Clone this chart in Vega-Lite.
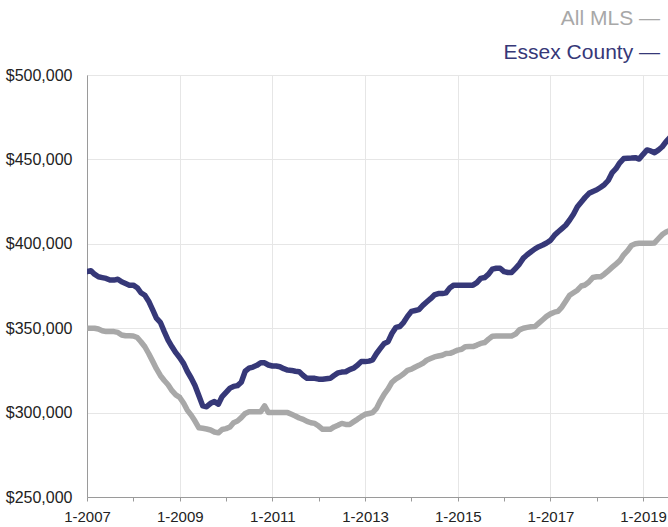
{
  "$schema": "https://vega.github.io/schema/vega-lite/v6.json",
  "width": 583,
  "height": 422,
  "padding": {"left": 5, "top": 8, "right": 0, "bottom": 5},
  "background": "white",
  "config": {
    "view": {"stroke": "#9a9a9a", "strokeWidth": 1},
    "font": "Liberation Sans"
  },
  "data": {
    "values": [
      {"date":"2007-01-01","All MLS":350000,"Essex County":383500},
      {"date":"2007-02-01","All MLS":350000,"Essex County":384000},
      {"date":"2007-03-01","All MLS":350000,"Essex County":382000},
      {"date":"2007-04-01","All MLS":349500,"Essex County":380500},
      {"date":"2007-05-01","All MLS":348500,"Essex County":380000},
      {"date":"2007-06-01","All MLS":348000,"Essex County":379500},
      {"date":"2007-07-01","All MLS":348000,"Essex County":378500},
      {"date":"2007-08-01","All MLS":348000,"Essex County":378500},
      {"date":"2007-09-01","All MLS":347500,"Essex County":379000},
      {"date":"2007-10-01","All MLS":346000,"Essex County":377500},
      {"date":"2007-11-01","All MLS":345500,"Essex County":376500},
      {"date":"2007-12-01","All MLS":345500,"Essex County":375500},
      {"date":"2008-01-01","All MLS":345400,"Essex County":375500},
      {"date":"2008-02-01","All MLS":344500,"Essex County":374000},
      {"date":"2008-03-01","All MLS":342000,"Essex County":371000},
      {"date":"2008-04-01","All MLS":339000,"Essex County":369500},
      {"date":"2008-05-01","All MLS":335000,"Essex County":366000},
      {"date":"2008-06-01","All MLS":330500,"Essex County":361000},
      {"date":"2008-07-01","All MLS":326000,"Essex County":356000},
      {"date":"2008-08-01","All MLS":322000,"Essex County":353500},
      {"date":"2008-09-01","All MLS":319000,"Essex County":348000},
      {"date":"2008-10-01","All MLS":316500,"Essex County":343000},
      {"date":"2008-11-01","All MLS":313000,"Essex County":339000},
      {"date":"2008-12-01","All MLS":310500,"Essex County":335500},
      {"date":"2009-01-01","All MLS":309000,"Essex County":332500},
      {"date":"2009-02-01","All MLS":305500,"Essex County":329000},
      {"date":"2009-03-01","All MLS":301500,"Essex County":324500},
      {"date":"2009-04-01","All MLS":298500,"Essex County":320500},
      {"date":"2009-05-01","All MLS":295000,"Essex County":316000},
      {"date":"2009-06-01","All MLS":291000,"Essex County":310000},
      {"date":"2009-07-01","All MLS":290700,"Essex County":304000},
      {"date":"2009-08-01","All MLS":290300,"Essex County":303500},
      {"date":"2009-09-01","All MLS":289700,"Essex County":305500},
      {"date":"2009-10-01","All MLS":288500,"Essex County":306500},
      {"date":"2009-11-01","All MLS":288000,"Essex County":305000},
      {"date":"2009-12-01","All MLS":290000,"Essex County":309500},
      {"date":"2010-01-01","All MLS":290500,"Essex County":312000},
      {"date":"2010-02-01","All MLS":291500,"Essex County":314500},
      {"date":"2010-03-01","All MLS":294000,"Essex County":315500},
      {"date":"2010-04-01","All MLS":295000,"Essex County":316000},
      {"date":"2010-05-01","All MLS":297000,"Essex County":318000},
      {"date":"2010-06-01","All MLS":299500,"Essex County":324500},
      {"date":"2010-07-01","All MLS":300500,"Essex County":326300},
      {"date":"2010-08-01","All MLS":300500,"Essex County":327000},
      {"date":"2010-09-01","All MLS":300500,"Essex County":328000},
      {"date":"2010-10-01","All MLS":300500,"Essex County":329500},
      {"date":"2010-11-01","All MLS":304000,"Essex County":329500},
      {"date":"2010-12-01","All MLS":300000,"Essex County":328200},
      {"date":"2011-01-01","All MLS":300000,"Essex County":327600},
      {"date":"2011-02-01","All MLS":300000,"Essex County":327600},
      {"date":"2011-03-01","All MLS":300000,"Essex County":327200},
      {"date":"2011-04-01","All MLS":300000,"Essex County":326000},
      {"date":"2011-05-01","All MLS":300000,"Essex County":325200},
      {"date":"2011-06-01","All MLS":299000,"Essex County":325000},
      {"date":"2011-07-01","All MLS":298000,"Essex County":324500},
      {"date":"2011-08-01","All MLS":296800,"Essex County":324200},
      {"date":"2011-09-01","All MLS":296000,"Essex County":322000},
      {"date":"2011-10-01","All MLS":294800,"Essex County":320300},
      {"date":"2011-11-01","All MLS":294000,"Essex County":320300},
      {"date":"2011-12-01","All MLS":293600,"Essex County":320300},
      {"date":"2012-01-01","All MLS":292000,"Essex County":319800},
      {"date":"2012-02-01","All MLS":290100,"Essex County":319700},
      {"date":"2012-03-01","All MLS":290100,"Essex County":320000},
      {"date":"2012-04-01","All MLS":290100,"Essex County":320300},
      {"date":"2012-05-01","All MLS":291500,"Essex County":322000},
      {"date":"2012-06-01","All MLS":292500,"Essex County":323500},
      {"date":"2012-07-01","All MLS":293600,"Essex County":324000},
      {"date":"2012-08-01","All MLS":293000,"Essex County":324200},
      {"date":"2012-09-01","All MLS":293000,"Essex County":325500},
      {"date":"2012-10-01","All MLS":294500,"Essex County":326300},
      {"date":"2012-11-01","All MLS":296000,"Essex County":328000},
      {"date":"2012-12-01","All MLS":297600,"Essex County":330200},
      {"date":"2013-01-01","All MLS":299000,"Essex County":330200},
      {"date":"2013-02-01","All MLS":299500,"Essex County":330500},
      {"date":"2013-03-01","All MLS":300000,"Essex County":331200},
      {"date":"2013-04-01","All MLS":302500,"Essex County":335000},
      {"date":"2013-05-01","All MLS":307000,"Essex County":338000},
      {"date":"2013-06-01","All MLS":311000,"Essex County":341000},
      {"date":"2013-07-01","All MLS":314000,"Essex County":342000},
      {"date":"2013-08-01","All MLS":318000,"Essex County":347000},
      {"date":"2013-09-01","All MLS":320000,"Essex County":350500},
      {"date":"2013-10-01","All MLS":321300,"Essex County":351000},
      {"date":"2013-11-01","All MLS":323000,"Essex County":353500},
      {"date":"2013-12-01","All MLS":325000,"Essex County":357000},
      {"date":"2014-01-01","All MLS":325700,"Essex County":360000},
      {"date":"2014-02-01","All MLS":327000,"Essex County":360500},
      {"date":"2014-03-01","All MLS":328000,"Essex County":361000},
      {"date":"2014-04-01","All MLS":329200,"Essex County":363500},
      {"date":"2014-05-01","All MLS":331000,"Essex County":365500},
      {"date":"2014-06-01","All MLS":332000,"Essex County":367500},
      {"date":"2014-07-01","All MLS":333000,"Essex County":369700},
      {"date":"2014-08-01","All MLS":333500,"Essex County":370500},
      {"date":"2014-09-01","All MLS":334000,"Essex County":370500},
      {"date":"2014-10-01","All MLS":335000,"Essex County":371000},
      {"date":"2014-11-01","All MLS":335100,"Essex County":374000},
      {"date":"2014-12-01","All MLS":336000,"Essex County":375500},
      {"date":"2015-01-01","All MLS":337000,"Essex County":375500},
      {"date":"2015-02-01","All MLS":337500,"Essex County":375500},
      {"date":"2015-03-01","All MLS":339000,"Essex County":375500},
      {"date":"2015-04-01","All MLS":339100,"Essex County":375500},
      {"date":"2015-05-01","All MLS":339100,"Essex County":375500},
      {"date":"2015-06-01","All MLS":340000,"Essex County":377000},
      {"date":"2015-07-01","All MLS":341000,"Essex County":379500},
      {"date":"2015-08-01","All MLS":341500,"Essex County":380000},
      {"date":"2015-09-01","All MLS":343500,"Essex County":382000},
      {"date":"2015-10-01","All MLS":345200,"Essex County":385000},
      {"date":"2015-11-01","All MLS":345400,"Essex County":385500},
      {"date":"2015-12-01","All MLS":345400,"Essex County":385500},
      {"date":"2016-01-01","All MLS":345400,"Essex County":383500},
      {"date":"2016-02-01","All MLS":345400,"Essex County":383000},
      {"date":"2016-03-01","All MLS":345400,"Essex County":383000},
      {"date":"2016-04-01","All MLS":346500,"Essex County":385500},
      {"date":"2016-05-01","All MLS":349000,"Essex County":388000},
      {"date":"2016-06-01","All MLS":350000,"Essex County":391500},
      {"date":"2016-07-01","All MLS":350500,"Essex County":393500},
      {"date":"2016-08-01","All MLS":350900,"Essex County":395300},
      {"date":"2016-09-01","All MLS":351000,"Essex County":397000},
      {"date":"2016-10-01","All MLS":353000,"Essex County":398300},
      {"date":"2016-11-01","All MLS":355000,"Essex County":399300},
      {"date":"2016-12-01","All MLS":357000,"Essex County":400500},
      {"date":"2017-01-01","All MLS":358500,"Essex County":402000},
      {"date":"2017-02-01","All MLS":359500,"Essex County":405000},
      {"date":"2017-03-01","All MLS":360000,"Essex County":407000},
      {"date":"2017-04-01","All MLS":362500,"Essex County":409000},
      {"date":"2017-05-01","All MLS":366000,"Essex County":411000},
      {"date":"2017-06-01","All MLS":369500,"Essex County":414100},
      {"date":"2017-07-01","All MLS":371000,"Essex County":417500},
      {"date":"2017-08-01","All MLS":372500,"Essex County":422000},
      {"date":"2017-09-01","All MLS":375000,"Essex County":424800},
      {"date":"2017-10-01","All MLS":375600,"Essex County":427500},
      {"date":"2017-11-01","All MLS":377500,"Essex County":429900},
      {"date":"2017-12-01","All MLS":380000,"Essex County":431000},
      {"date":"2018-01-01","All MLS":380500,"Essex County":432000},
      {"date":"2018-02-01","All MLS":380500,"Essex County":433500},
      {"date":"2018-03-01","All MLS":382000,"Essex County":435000},
      {"date":"2018-04-01","All MLS":384000,"Essex County":437500},
      {"date":"2018-05-01","All MLS":386000,"Essex County":442000},
      {"date":"2018-06-01","All MLS":388000,"Essex County":444500},
      {"date":"2018-07-01","All MLS":390000,"Essex County":448000},
      {"date":"2018-08-01","All MLS":393500,"Essex County":450500},
      {"date":"2018-09-01","All MLS":396000,"Essex County":450700},
      {"date":"2018-10-01","All MLS":399000,"Essex County":450800},
      {"date":"2018-11-01","All MLS":400000,"Essex County":451000},
      {"date":"2018-12-01","All MLS":400300,"Essex County":450200},
      {"date":"2019-01-01","All MLS":400300,"Essex County":453000},
      {"date":"2019-02-01","All MLS":400300,"Essex County":455600},
      {"date":"2019-03-01","All MLS":400300,"Essex County":455000},
      {"date":"2019-04-01","All MLS":400500,"Essex County":454000},
      {"date":"2019-05-01","All MLS":403000,"Essex County":455500},
      {"date":"2019-06-01","All MLS":405500,"Essex County":457500},
      {"date":"2019-07-01","All MLS":407000,"Essex County":460500},
      {"date":"2019-08-01","All MLS":408000,"Essex County":463000}
    ]
  },
  "transform": [{"fold": ["All MLS", "Essex County"], "as": ["series", "price"]}],
  "mark": {"type": "line", "strokeWidth": 5.5, "strokeJoin": "round", "strokeCap": "round", "clip": true},
  "encoding": {
    "x": {
      "field": "date",
      "type": "temporal",
      "scale": {"type": "utc", "domain": [{"year": 2007, "month": 1, "date": 1, "utc": true}, {"year": 2019, "month": 8, "date": 1, "utc": true}]},
      "axis": {
        "title": null,
        "values": [
          {"year": 2007, "month": 1, "date": 1, "utc": true},
          {"year": 2008, "month": 1, "date": 1, "utc": true},
          {"year": 2009, "month": 1, "date": 1, "utc": true},
          {"year": 2010, "month": 1, "date": 1, "utc": true},
          {"year": 2011, "month": 1, "date": 1, "utc": true},
          {"year": 2012, "month": 1, "date": 1, "utc": true},
          {"year": 2013, "month": 1, "date": 1, "utc": true},
          {"year": 2014, "month": 1, "date": 1, "utc": true},
          {"year": 2015, "month": 1, "date": 1, "utc": true},
          {"year": 2016, "month": 1, "date": 1, "utc": true},
          {"year": 2017, "month": 1, "date": 1, "utc": true},
          {"year": 2018, "month": 1, "date": 1, "utc": true},
          {"year": 2019, "month": 1, "date": 1, "utc": true}
        ],
        "labelExpr": "utcyear(datum.value) % 2 == 1 ? utcFormat(datum.value, '%-m-%Y') : ''",
        "labelFont": "Liberation Sans",
        "labelFontSize": 15,
        "labelColor": "#222222",
        "labelPadding": 8,
        "labelOverlap": false,
        "labelFlush": false,
        "tickSize": 4,
        "tickColor": "#9a9a9a",
        "domainColor": "#9a9a9a",
        "gridColor": "#e6e6e6",
        "gridOpacity": {"condition": {"test": "utcyear(datum.value) % 2 == 0", "value": 0}, "value": 1}
      }
    },
    "y": {
      "field": "price",
      "type": "quantitative",
      "scale": {"domain": [250000, 500000], "nice": false, "zero": false},
      "axis": {
        "title": null,
        "values": [250000, 300000, 350000, 400000, 450000, 500000],
        "format": "$,.0f",
        "labelFont": "Liberation Sans",
        "labelFontSize": 16,
        "labelColor": "#222222",
        "ticks": false,
        "tickSize": 0,
        "labelPadding": 15,
        "domainColor": "#9a9a9a",
        "gridColor": "#e6e6e6"
      }
    },
    "color": {
      "field": "series",
      "type": "nominal",
      "scale": {"domain": ["All MLS", "Essex County"], "range": ["#a8a8a8", "#363878"]},
      "legend": {
        "orient": "none",
        "legendX": 548,
        "legendY": -67,
        "title": null,
        "labelFont": "Liberation Sans",
        "labelFontSize": 21,
        "labelExpr": "datum.label + ' —'",
        "labelAlign": "right",
        "labelLimit": 300,
        "symbolOpacity": 0,
        "symbolSize": 1,
        "rowPadding": 12,
        "encode": {"labels": {"update": {"fill": {"scale": "color", "field": "value"}}}}
      }
    }
  }
}
